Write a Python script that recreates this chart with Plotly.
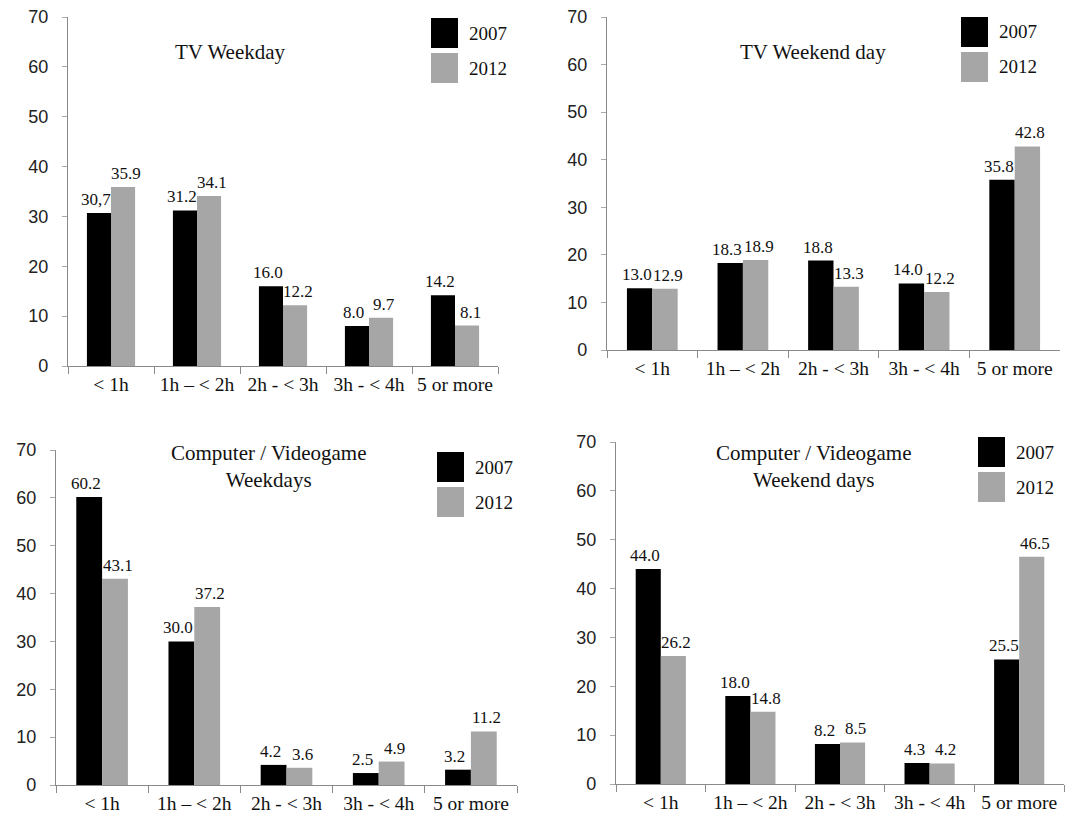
import plotly.graph_objects as go

W, H = 1074, 817

categories = ["< 1h", "1h – < 2h", "2h - < 3h", "3h - < 4h", "5 or more"]
years = ["2007", "2012"]

tv_weekday_2007 = [30.7, 31.2, 16.0, 8.0, 14.2]
tv_weekday_2012 = [35.9, 34.1, 12.2, 9.7, 8.1]
tv_weekend_2007 = [13.0, 18.3, 18.8, 14.0, 35.8]
tv_weekend_2012 = [12.9, 18.9, 13.3, 12.2, 42.8]
pc_weekday_2007 = [60.2, 30.0, 4.2, 2.5, 3.2]
pc_weekday_2012 = [43.1, 37.2, 3.6, 4.9, 11.2]
pc_weekend_2007 = [44.0, 18.0, 8.2, 4.3, 25.5]
pc_weekend_2012 = [26.2, 14.8, 8.5, 4.2, 46.5]

titles = ["TV Weekday", "TV Weekend day",
          "Computer / Videogame<br>Weekdays", "Computer / Videogame<br>Weekend days"]
y_ticks = [0, 10, 20, 30, 40, 50, 60, 70]

COL_2007 = "#000000"
COL_2012 = "#a6a6a6"
SERIF = "Liberation Serif, Times New Roman, serif"
SANS = "Liberation Sans, Arial, sans-serif"
BARGAP = 0.44

def px(x):
    return x / W

def py(y):
    return 1 - y / H

# panel layout in pixels
panels = [
    dict(x=(68, 498), y=(17, 366), title=(230, 52), leg=(431, 18)),
    dict(x=(607, 1060), y=(17, 350), title=(813, 52), leg=(961, 17)),
    dict(x=(56, 517), y=(450, 785), title=(268, 466), leg=(437, 452)),
    dict(x=(616, 1064), y=(442, 784), title=(813, 466), leg=(978, 437)),
]

series = [
    (tv_weekday_2007, tv_weekday_2012),
    (tv_weekend_2007, tv_weekend_2012),
    (pc_weekday_2007, pc_weekday_2012),
    (pc_weekend_2007, pc_weekend_2012),
]

def fmt(v):
    return f"{v:.1f}"

fig = go.Figure()
annotations = []
shapes = []

for i, (p, (s07, s12)) in enumerate(zip(panels, series)):
    n = "" if i == 0 else str(i + 1)
    xa, ya = "x" + n, "y" + n
    t07 = [fmt(v) for v in s07]
    t12 = [fmt(v) for v in s12]
    if i == 0:
        t07[0] = t07[0].replace(".", ",")
    cat_w = (p["x"][1] - p["x"][0]) / len(categories)
    bw = cat_w * (1 - BARGAP) / 2
    for k, (vals, txt, col, yr) in enumerate(((s07, t07, COL_2007, years[0]),
                                              (s12, t12, COL_2012, years[1]))):
        fig.add_trace(go.Bar(
            x=categories, y=vals, name=yr, marker=dict(color=col, line=dict(width=0)),
            xaxis=xa, yaxis=ya, showlegend=False,
        ))
        sign = -1 if k == 0 else 1
        for c, v, t in zip(categories, vals, txt):
            annotations.append(dict(
                x=c, y=v, xref=xa, yref=ya, text=t, showarrow=False,
                xanchor="center", yanchor="bottom",
                xshift=sign * (bw / 2 + 3), yshift=2,
                font=dict(family=SERIF, size=17, color="#111"),
            ))
    fig.layout["xaxis" + n] = dict(
        domain=[px(p["x"][0]), px(p["x"][1])], anchor=ya,
        showline=True, linecolor="#8a8a8a", linewidth=1.2,
        ticks="outside", tickson="boundaries", ticklen=7, tickcolor="#8a8a8a",
        tickangle=0,
        tickfont=dict(family=SERIF, size=19.5, color="#111"),
        showgrid=False, zeroline=False, fixedrange=True,
    )
    fig.layout["yaxis" + n] = dict(
        domain=[py(p["y"][1]), py(p["y"][0])], anchor=xa,
        range=[0, 70], tickvals=y_ticks,
        showline=True, linecolor="#8a8a8a", linewidth=1.2,
        ticks="outside", ticklen=5, tickcolor="#aaaaaa",
        ticklabelstandoff=10,
        tickfont=dict(family=SANS, size=18, color="#222"),
        showgrid=False, zeroline=False, fixedrange=True,
    )
    tx, ty = p["title"]
    annotations.append(dict(
        x=px(tx), y=py(ty), xref="paper", yref="paper", text=titles[i],
        showarrow=False, xanchor="center", yanchor="middle",
        font=dict(family=SERIF, size=21, color="#111"),
    ))
    lx, ly = p["leg"]
    for k, (col, yr) in enumerate(((COL_2007, years[0]), (COL_2012, years[1]))):
        y0 = ly + k * 35
        shapes.append(dict(
            type="rect", xref="paper", yref="paper",
            x0=px(lx), x1=px(lx + 27), y0=py(y0 + 30), y1=py(y0),
            fillcolor=col, line=dict(width=0),
        ))
        annotations.append(dict(
            x=px(lx + 36), y=py(y0 + 15), xref="paper", yref="paper", text=yr,
            showarrow=False, xanchor="left", yanchor="middle",
            font=dict(family=SERIF, size=19, color="#111"),
        ))

fig.update_layout(
    width=W, height=H,
    margin=dict(l=0, r=0, t=0, b=0, autoexpand=False),
    paper_bgcolor="white", plot_bgcolor="white",
    barmode="group", bargap=BARGAP, bargroupgap=0,
    annotations=annotations, shapes=shapes,
    showlegend=False,
)

fig.write_html(
    "out.html",
    config={"displayModeBar": False},
    post_script="document.body.style.margin='0';document.body.style.overflow='hidden';",
)
